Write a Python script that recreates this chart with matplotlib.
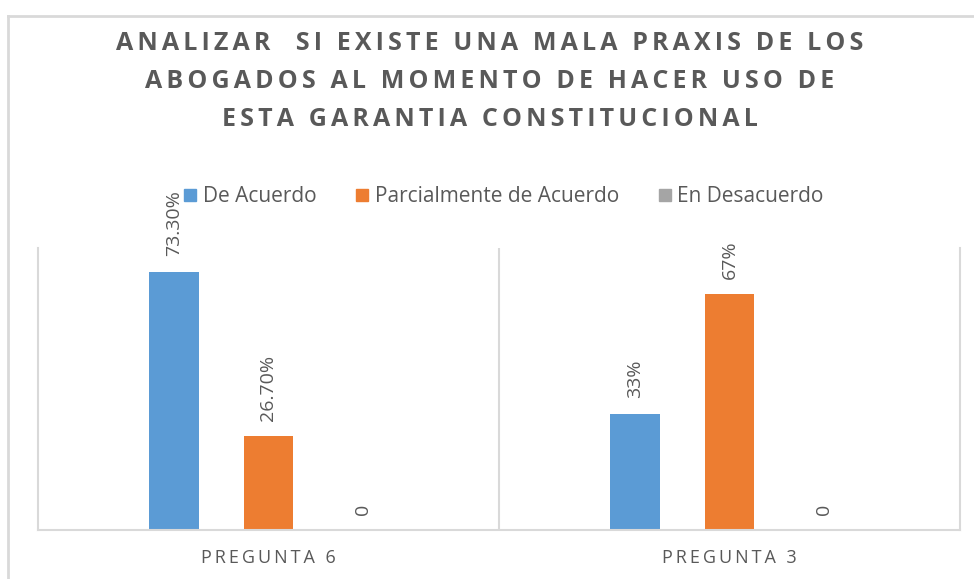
import numpy as np
import matplotlib
matplotlib.use('Agg')
from matplotlib import pyplot as plt
from matplotlib.lines import Line2D

### chart data
categories = ['PREGUNTA 6', 'PREGUNTA 3']
series = ['De Acuerdo', 'Parcialmente de Acuerdo', 'En Desacuerdo']
de_acuerdo = [73.3, 33]
parcial = [26.7, 67]
desacuerdo = [0, 0]
labels_de_acuerdo = ['73.30%', '33%']
labels_parcial = ['26.70%', '67%']
labels_desacuerdo = ['0', '0']
title_lines = ['ANALIZAR  SI EXISTE UNA MALA PRAXIS DE LOS',
               'ABOGADOS AL MOMENTO DE HACER USO DE',
               'ESTA GARANTIA CONSTITUCIONAL']

colors = ['#5b9bd5', '#ed7d31', '#a5a5a5']
txt = '#595959'
line_c = '#d9d9d9'

plt.rcParams['font.family'] = ['Open Sans', 'DejaVu Sans']

# fake letter spacing with small spaces
def spaced(s, sp='\u2009'):
    return sp.join(s)

fig = plt.figure(figsize=(9.74, 5.79), dpi=100)
ax = fig.add_axes([38/974, 1-530/579, (960-38)/974, (530-248)/579])

x = np.arange(len(categories))
w = 0.108
off = 0.205
values = [de_acuerdo, parcial, desacuerdo]
labels = [labels_de_acuerdo, labels_parcial, labels_desacuerdo]
for i, (vals, labs) in enumerate(zip(values, labels)):
    pos = x + (i - 1) * off
    ax.bar(pos, vals, width=w, color=colors[i], label=series[i])
    for p, v, l in zip(pos, vals, labs):
        ax.annotate(l, (p, v), xytext=(0, 11), textcoords='offset points',
                    rotation=90, ha='center', va='bottom', fontsize=14, color=txt)

ax.set_xlim(-0.5, 1.5)
ax.set_ylim(0, 80)
ax.set_yticks([])
ax.set_xticks(x)
ax.set_xticklabels([spaced(c) for c in categories], fontsize=13, color=txt)
ax.tick_params(axis='x', length=0, pad=14)
ax.spines['top'].set_visible(False)
for s in ['left', 'right', 'bottom']:
    ax.spines[s].set_color(line_c)
    ax.spines[s].set_linewidth(1.5)
ax.axvline(0.5, color=line_c, lw=1.5)

### legend
handles = [Line2D([], [], marker='s', ls='', color=c, markersize=9) for c in colors]
fig.legend(handles, series, loc='center', bbox_to_anchor=(504/974, 1-197/579),
           ncol=3, frameon=False, fontsize=15, labelcolor=txt,
           handletextpad=0.3, columnspacing=1.9, handlelength=0.6)

### title, one text per line
for k, line in enumerate(title_lines):
    fig.text(490/974, 1-(44 + 38*k)/579, spaced(line, '\u2006'),
             ha='center', va='center', fontsize=18, fontweight='bold', color=txt)

### outer chart border
fig.add_artist(Line2D([8/974, 1], [1-16/579, 1-16/579], color=line_c, lw=2))
fig.add_artist(Line2D([8/974, 8/974], [0, 1-16/579], color=line_c, lw=2))

fig.savefig('out.png', dpi=100)
